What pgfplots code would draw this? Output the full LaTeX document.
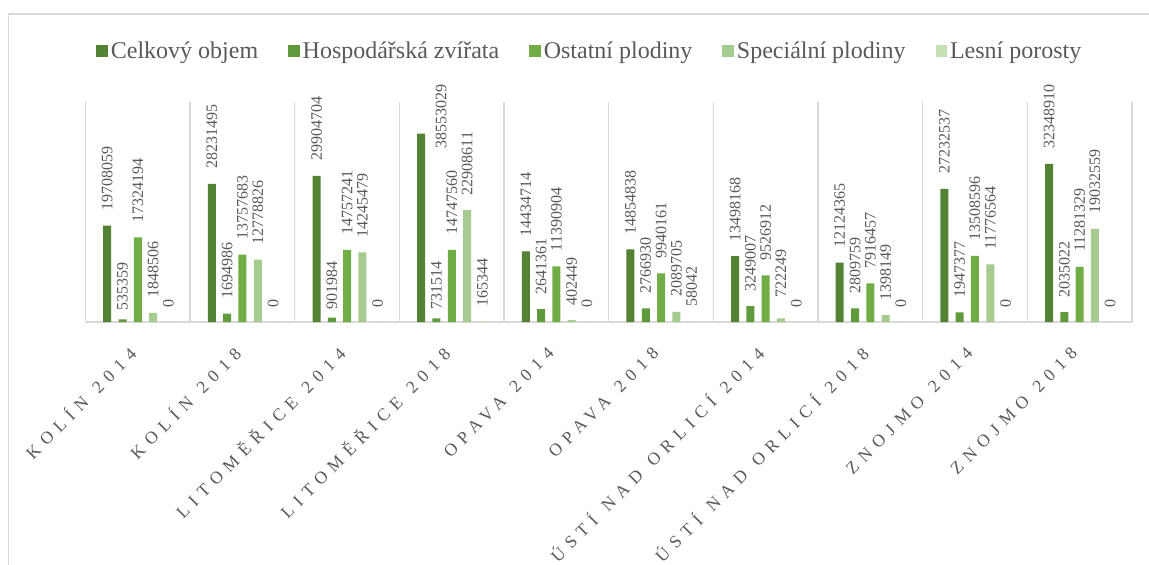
\documentclass[border=0pt]{standalone}
\usepackage{fontspec}
\setmainfont{Liberation Serif}
\newfontfamily\spacedfont[LetterSpace=37, WordSpace=1.2]{Liberation Serif}
\usepackage{pgfplots}
\usepackage{pgfplotstable}
\pgfplotsset{compat=1.18}
\definecolor{c1}{HTML}{548235}
\definecolor{c2}{HTML}{5F9B3C}
\definecolor{c3}{HTML}{70AD47}
\definecolor{c4}{HTML}{A6CB8E}
\definecolor{c5}{HTML}{C5E0B4}
\definecolor{textgray}{HTML}{595959}
\definecolor{gridgray}{HTML}{D9D9D9}
\pgfplotstableread{
x v1 v2 v3 v4 v5
0 19708059 535359 17324194 1848506 0
1 28231495 1694986 13757683 12778826 0
2 29904704 901984 14757241 14245479 0
3 38553029 731514 14747560 22908611 165344
4 14434714 2641361 11390904 402449 0
5 14854838 2766930 9940161 2089705 58042
6 13498168 3249007 9526912 722249 0
7 12124365 2809759 7916457 1398149 0
8 27232537 1947377 13508596 11776564 0
9 32348910 2035022 11281329 19032559 0
}\data
\pgfplotsset{legimg/.style={legend image code/.code={\fill[##1] (0pt,-5.75pt) rectangle (11.5pt,5.75pt);}}}
\begin{document}
\begin{tikzpicture}
\useasboundingbox (0pt,0pt) rectangle (1149pt,565pt);
\draw[gridgray, line width=1.6pt] (8.5pt,-20pt) -- (8.5pt,551pt) -- (1200pt,551pt);
\begin{axis}[
  at={(85.5pt,243pt)}, anchor=south west,
  scale only axis, width=1046.5pt, height=220pt,
  xmin=-0.5, xmax=9.5, ymin=0, ymax=45000000,
  axis y line=none, axis x line*=bottom,
  x axis line style={gridgray, line width=1.5pt},
  xtick={0,...,9},
  xticklabels={KOLÍN 2014, KOLÍN 2018, LITOMĚŘICE 2014, LITOMĚŘICE 2018, OPAVA 2014, OPAVA 2018, ÚSTÍ NAD ORLICÍ 2014, ÚSTÍ NAD ORLICÍ 2018, ZNOJMO 2014, ZNOJMO 2018},
  xticklabel style={font=\spacedfont\fontsize{17.5}{17.5}\selectfont, text=textgray, xshift=-3pt, rotate=45, anchor=east},
  xticklabel shift=26pt,
  major tick length=0pt,
  minor xtick={-0.5,0.5,...,9.5},
  minor tick length=0pt,
  xminorgrids=true,
  minor grid style={gridgray, line width=1.3pt},
  ybar=7.3pt, bar width=8pt,
  nodes near coords, point meta=explicit symbolic,
  every node near coord/.append style={rotate=90, anchor=west, font=\fontsize{16}{16}\selectfont, text=textgray, inner sep=0pt, outer xsep=15pt},
  legend columns=5,
  legend style={at={(axis description cs:0.482,1.232)}, anchor=center, draw=none, fill=none,
    font=\fontsize{24}{24}\selectfont, text=textgray,
    /tikz/every even column/.append style={column sep=28pt},
    /tikz/every odd column/.append style={column sep=1pt}},
]
\addplot[fill=c1, draw=none, legimg, coordinate style/.condition={\coordindex==3}{xshift=20pt, yshift=-30pt}] table[x=x, y=v1, meta=v1] {\data};
\addplot[fill=c2, draw=none, legimg,
  coordinate style/.condition={\coordindex==0}{yshift=-6pt},
  coordinate style/.condition={\coordindex==2}{yshift=-7pt},
  coordinate style/.condition={\coordindex==3}{yshift=-6pt}] table[x=x, y=v2, meta=v2] {\data};
\addplot[fill=c3, draw=none, legimg] table[x=x, y=v3, meta=v3] {\data};
\addplot[fill=c4, draw=none, legimg,
  coordinate style/.condition={\coordindex==6}{yshift=6pt}] table[x=x, y=v4, meta=v4] {\data};
\addplot[fill=c5, draw=none, legimg] table[x=x, y=v5, meta=v5] {\data};
\legend{Celkový objem, Hospodářská zvířata, Ostatní plodiny, Speciální plodiny, Lesní porosty}
\end{axis}
\end{tikzpicture}
\end{document}
